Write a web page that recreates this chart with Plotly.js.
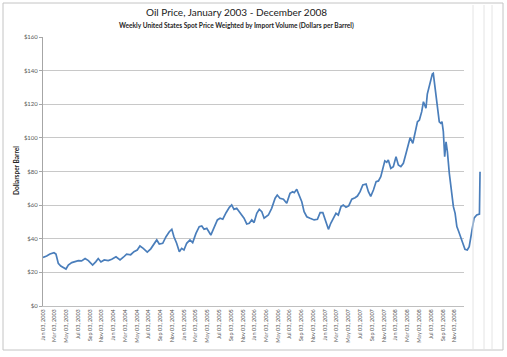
<!DOCTYPE html>
<html>
<head>
<meta charset="utf-8">
<script src="https://cdn.plot.ly/plotly-3.0.1.min.js"></script>
<style>html,body{margin:0;padding:0;background:#fff;}#chart{width:507px;height:357px;}</style>
</head>
<body>
<div id="chart"></div>
<script>
// Weekly US spot price weighted by import volume
const dates = [
"2003-01-03","2003-01-22","2003-02-08","2003-03-01","2003-03-11","2003-03-23","2003-04-05","2003-04-18","2003-05-02","2003-05-14",
"2003-06-01","2003-06-18","2003-07-05","2003-07-22","2003-08-09","2003-08-26","2003-09-17","2003-10-04","2003-10-16","2003-10-30",
"2003-11-16","2003-12-07","2003-12-25","2004-01-16","2004-02-06","2004-02-23","2004-03-11","2004-04-01","2004-04-18","2004-05-05",
"2004-05-19","2004-06-05","2004-06-26","2004-07-14","2004-07-27","2004-08-14","2004-08-27","2004-09-14","2004-10-01","2004-10-18",
"2004-10-31","2004-11-11","2004-11-25","2004-12-09","2004-12-21","2005-01-02","2005-01-16","2005-02-02","2005-02-16","2005-03-05",
"2005-03-22","2005-04-04","2005-04-16","2005-04-30","2005-05-21","2005-06-07","2005-06-24","2005-07-08","2005-07-22","2005-08-08",
"2005-08-25","2005-09-06","2005-09-18","2005-10-02","2005-10-19","2005-11-09","2005-11-23","2005-12-06","2005-12-19","2005-12-31",
"2006-01-14","2006-01-27","2006-02-09","2006-02-21","2006-03-15","2006-04-01","2006-04-19","2006-04-30","2006-05-14","2006-06-01",
"2006-06-18","2006-07-05","2006-07-19","2006-07-27","2006-08-09","2006-08-22","2006-09-04","2006-09-16","2006-09-30","2006-10-17",
"2006-11-07","2006-11-24","2006-12-08","2006-12-22","2007-01-02","2007-01-20","2007-02-01","2007-02-14","2007-02-28","2007-03-12",
"2007-03-26","2007-04-07","2007-04-21","2007-05-05","2007-05-21","2007-06-07","2007-06-19","2007-07-03","2007-07-17","2007-08-03",
"2007-08-15","2007-08-27","2007-09-10","2007-09-24","2007-10-06","2007-10-18","2007-10-28","2007-11-08","2007-11-18","2007-11-26",
"2007-12-09","2007-12-22","2008-01-05","2008-01-17","2008-01-30","2008-02-12","2008-02-26","2008-03-09","2008-03-18","2008-04-01",
"2008-04-13","2008-04-25","2008-05-05","2008-05-17","2008-05-26","2008-06-03","2008-06-08","2008-06-15","2008-06-25","2008-07-03",
"2008-07-11","2008-07-16","2008-07-23","2008-07-30","2008-08-06","2008-08-16","2008-08-24","2008-08-30","2008-09-06","2008-09-13",
"2008-09-20","2008-09-27","2008-10-07","2008-10-20","2008-10-28","2008-11-06","2008-11-15","2008-11-25","2008-12-05","2008-12-16",
"2008-12-27","2009-01-08","2009-01-18","2009-01-31","2009-02-12","2009-02-26","2009-03-12","2009-03-15"
];
const prices = [
28.9,29.7,30.9,31.7,30.9,25.4,23.8,23.0,22.0,24.4,
25.8,26.4,27.0,26.8,28.2,27.0,24.4,26.4,28.2,26.2,
27.4,27.0,27.8,29.3,27.4,29.0,30.9,30.5,32.3,33.3,
35.7,34.3,32.1,34.0,36.3,39.3,36.9,37.3,41.2,44.2,
45.6,41.2,37.3,32.3,34.3,33.3,37.3,39.3,37.7,43.2,
47.2,47.6,45.6,46.2,42.2,46.2,51.2,52.2,51.6,55.5,
58.7,60.1,57.5,58.1,55.1,52.2,48.8,49.2,51.2,49.6,
55.1,57.5,56.1,52.2,54.1,58.1,64.1,66.0,64.1,63.5,
61.1,67.0,68.0,67.4,69.4,66.0,62.0,56.1,53.1,52.2,
51.2,51.6,55.5,55.5,51.2,45.6,49.2,52.2,55.1,54.1,
59.1,60.1,58.7,59.5,63.5,64.4,65.4,68.0,72.0,72.6,
68.0,65.2,69.0,74.0,74.4,76.9,81.9,86.3,85.5,86.9,
81.9,82.9,88.8,83.9,82.9,84.9,90.8,95.8,100.1,96.8,
103.3,109.6,110.6,115.6,121.5,119.6,117.6,126.0,130.5,135.5,
138.0,138.4,131.5,122.5,118.6,109.6,108.7,109.6,103.7,88.8,
97.7,91.8,78.9,67.0,59.1,55.1,47.2,44.2,40.3,37.3,
33.7,33.3,35.3,43.2,52.2,54.1,54.7,79.9
];
const yTicks = [0,20,40,60,80,100,120,140,160];
const yTickText = ["$0","$20","$40","$60","$80","$100","$120","$140","$160"];

const titleText = "Oil Price, January 2003 - December 2008";
const subtitleText = "Weekly United States Spot Price Weighted by Import Volume (Dollars per Barrel)";
const yTitleText = "Dollarsper Barrel";

// geometry (pixels)
const W = 507, H = 357, ML = 43, MR = 20, MT = 37, MB = 51;
const plotW = W - ML - MR, plotH = H - MT - MB;
const mainRight = 464;
const fracMain = (mainRight - ML) / plotW;
const px = v => (v - ML) / plotW;
const py = v => (H - MB - v) / plotH;

const xStart = Date.parse("2003-01-03");
const xEnd = Date.parse("2008-12-22");
const x2End = xStart + (xEnd - xStart) / fracMain;

const FONT = "Lato, 'Open Sans', sans-serif";
const gray = "#595959";

// empty trace so the main (axes + grid) subplot is created
const axesHolder = {x: [], y: [], type: "scatter", mode: "lines", xaxis: "x", yaxis: "y", hoverinfo: "skip"};

const trace = {
  x: dates, y: prices, type: "scatter", mode: "lines",
  xaxis: "x2", yaxis: "y2",
  line: {color: "#4a7ebb", width: 1.7},
  hoverinfo: "skip"
};

const frameLines = [473, 484, 492].map(v => ({
  type: "line", xref: "paper", yref: "paper",
  x0: px(v), x1: px(v), y0: py(349), y1: py(5),
  line: {color: "#e4e4e4", width: 1}
}));

const layout = {
  width: W, height: H,
  margin: {l: ML, r: MR, t: MT, b: MB, pad: 0},
  paper_bgcolor: "#ffffff", plot_bgcolor: "rgba(0,0,0,0)",
  showlegend: false,
  font: {family: FONT, color: gray, size: 6},
  xaxis: {
    type: "date", domain: [0, fracMain], range: [xStart, xEnd], autorange: false,
    anchor: "y", tick0: "2003-01-03", dtick: "M2", tickformat: "%b %d, %Y",
    tickangle: -90, tickfont: {family: FONT, size: 5.5, color: gray},
    showgrid: false, zeroline: false, showline: true, linecolor: "#bfbfbf", linewidth: 1,
    ticks: "", fixedrange: true
  },
  yaxis: {
    range: [0, 160], autorange: false, tickvals: yTicks, ticktext: yTickText, anchor: "x",
    showgrid: true, gridcolor: "#c8c8c8", gridwidth: 1, zeroline: false,
    showline: true, linecolor: "#a6a6a6", linewidth: 1,
    ticks: "outside", ticklen: 3, tickcolor: "#a6a6a6",
    tickfont: {family: FONT, size: 6, color: gray}, fixedrange: true
  },
  xaxis2: {type: "date", domain: [0, 1], range: [xStart, x2End], autorange: false, anchor: "y2", visible: false, fixedrange: true},
  yaxis2: {range: [0, 160], autorange: false, domain: [0, 1], anchor: "x2", visible: false, fixedrange: true},
  shapes: [
    {type: "rect", xref: "paper", yref: "paper", x0: px(3), x1: px(503), y0: py(350), y1: py(3),
     line: {color: "#c4c4c4", width: 1}, fillcolor: "rgba(0,0,0,0)", layer: "below"}
  ].concat(frameLines),
  annotations: [
    {text: titleText, xref: "paper", yref: "paper", x: px(236), y: py(12), xanchor: "center", yanchor: "middle",
     showarrow: false, font: {family: FONT, size: 10, color: "#1a1a1a"}},
    {text: "<b>" + subtitleText + "</b>", xref: "paper", yref: "paper", x: px(236), y: py(26), xanchor: "center", yanchor: "middle",
     showarrow: false, font: {family: FONT, size: 6.6, color: "#262626"}},
    {text: "<b>" + yTitleText + "</b>", xref: "paper", yref: "paper", x: px(16), y: py(171), xanchor: "center", yanchor: "middle",
     textangle: -90, showarrow: false, font: {family: FONT, size: 6.5, color: "#262626"}}
  ]
};

Plotly.newPlot("chart", [axesHolder, trace], layout, {displayModeBar: false, staticPlot: true});
</script>
</body>
</html>
